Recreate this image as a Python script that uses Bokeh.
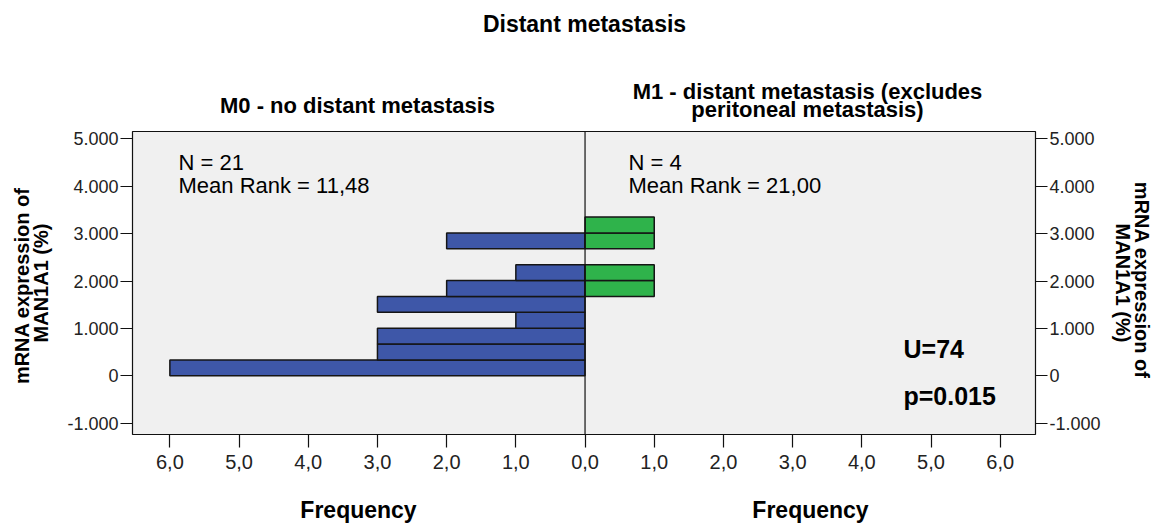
from bokeh.plotting import figure
from bokeh.models import Range1d, FixedTicker, LinearAxis, Span, Label, ColumnDataSource
from bokeh.layouts import column
from bokeh.embed import file_html
from bokeh.resources import INLINE

# ---- data ----
bin_lower = [0, 335, 670, 1005, 1340, 1675, 2010, 2345, 2680, 3015]
bin_width = 335
m0_counts = [6, 3, 3, 1, 3, 2, 1, 0, 2, 0]
m1_counts = [0, 0, 0, 0, 0, 1, 1, 0, 1, 1]
y_ticks = [-1000, 0, 1000, 2000, 3000, 4000, 5000]
y_tick_labels = ["-1.000", "0", "1.000", "2.000", "3.000", "4.000", "5.000"]
freq_ticks = [0, 1, 2, 3, 4, 5, 6]
freq_tick_labels = ["0,0", "1,0", "2,0", "3,0", "4,0", "5,0", "6,0"]
title_text = "Distant metastasis"
m0_title = "M0 - no distant metastasis"
m1_title = ["M1 - distant metastasis (excludes", "peritoneal metastasis)"]
stats_m0 = ["N = 21", "Mean Rank = 11,48"]
stats_m1 = ["N = 4", "Mean Rank = 21,00"]
test_text = ["U=74", "p=0.015"]
y_label = "mRNA  expression of\nMAN1A1 (%)"
x_label = "Frequency"

BLUE = "#3E57A8"
GREEN = "#2FB34B"
FONT = "Liberation Sans"

W, H = 1161, 524
TOP_H = 124
BOT_H = 40
MAIN_H = H - TOP_H - BOT_H
FL, FR, FT, FB = 132, 1035, 131, 434
X0, X1 = -6.54, 6.51
Y0, Y1 = -1238, 5154
BASE_FIX = 0.37  # baseline correction, in font sizes


def strip(height):
    # the column aligns this strip's frame with the main frame (FL..FR),
    # so a range of FL..FR makes data x equal to page pixels
    s = figure(width=W, height=height, output_backend="svg", toolbar_location=None,
               x_range=Range1d(FL, FR), y_range=Range1d(0, height), title=None,
               x_axis_type=None, y_axis_type=None, tools="", min_border=0)
    s.outline_line_color = None
    s.grid.visible = False
    s.background_fill_color = "white"
    s.border_fill_color = "white"
    return s


def slabel(s, text, x, y_from_bottom, size, bold=True, align="center"):
    s.add_layout(Label(x=x, y=y_from_bottom + BASE_FIX * size, text=text, text_font=FONT,
                       text_font_size=f"{size}px",
                       text_font_style="bold" if bold else "normal", text_color="#000000",
                       text_align=align, text_baseline="alphabetic"))


# ---- top strip with titles ----
top = strip(TOP_H)
slabel(top, title_text, 584, TOP_H - 32, 23)
slabel(top, m0_title, 357, TOP_H - 113, 22)
slabel(top, m1_title[0], 807, TOP_H - 99, 22)
slabel(top, m1_title[1], 807, TOP_H - 117, 22)

# ---- bottom strip with the two axis titles ----
bot = strip(BOT_H)
slabel(bot, x_label, 358, H - 518, 23)
slabel(bot, x_label, 810, H - 518, 23)

# ---- main plot ----
p = figure(width=W, height=MAIN_H, output_backend="svg", toolbar_location=None,
           x_range=Range1d(X0, X1), y_range=Range1d(Y0, Y1), title=None, tools="",
           min_border_left=FL, min_border_right=W - FR,
           min_border_top=FT - TOP_H, min_border_bottom=(H - BOT_H) - FB)
p.background_fill_color = "#F0F0F0"
p.border_fill_color = "white"
p.outline_line_color = "#111111"
p.outline_line_width = 1.2
p.grid.visible = False

centers = [b + bin_width / 2 for b in bin_lower]
src0 = ColumnDataSource(dict(
    y=[c for c, n in zip(centers, m0_counts) if n > 0],
    left=[-n for n in m0_counts if n > 0]))
src1 = ColumnDataSource(dict(
    y=[c for c, n in zip(centers, m1_counts) if n > 0],
    right=[n for n in m1_counts if n > 0]))
p.hbar(y="y", left="left", right=0, height=bin_width, source=src0,
       fill_color=BLUE, line_color="#151515", line_width=1.5)
p.hbar(y="y", left=0, right="right", height=bin_width, source=src1,
       fill_color=GREEN, line_color="#151515", line_width=1.5)
p.add_layout(Span(location=0, dimension="height", line_color="#111111", line_width=1.2))

xa = p.xaxis[0]
xa.ticker = FixedTicker(ticks=[-t for t in freq_ticks[1:]] + freq_ticks)
ov = {}
for t, l in zip(freq_ticks, freq_tick_labels):
    ov[t] = l
    ov[-t] = l
xa.major_label_overrides = ov
xa.axis_line_color = None
xa.major_tick_in = 0
xa.major_tick_out = 13
xa.major_tick_line_color = "#111111"
xa.major_tick_line_width = 1.2
xa.minor_tick_line_color = None
xa.major_label_standoff = 7
xa.major_label_text_font = FONT
xa.major_label_text_font_size = "20px"
xa.major_label_text_color = "#222222"

ya_l = p.yaxis[0]
ya_r = LinearAxis()
p.add_layout(ya_r, "right")
for ya, std in ((ya_l, 12), (ya_r, 8)):
    ya.ticker = FixedTicker(ticks=y_ticks)
    ya.major_label_overrides = {t: l for t, l in zip(y_ticks, y_tick_labels)}
    ya.axis_line_color = None
    ya.major_tick_in = 0
    ya.major_tick_out = 12
    ya.major_tick_line_color = "#111111"
    ya.major_tick_line_width = 1.2
    ya.minor_tick_line_color = None
    ya.major_label_standoff = 2
    ya.major_label_text_font = FONT
    ya.major_label_text_font_size = "18px"
    ya.major_label_text_color = "#222222"
    ya.axis_label = y_label
    ya.axis_label_text_font = FONT
    ya.axis_label_text_font_size = "20px"
    ya.axis_label_text_font_style = "bold"
    ya.axis_label_text_color = "#000000"
    ya.axis_label_text_line_height = 0.9
    ya.axis_label_standoff = std


def sx(px):
    return X0 + (px - FL) / (FR - FL) * (X1 - X0)


def sy(py):
    return Y0 + (FB - py) / (FB - FT) * (Y1 - Y0)


def lab(text, px, py, size, bold=False):
    p.add_layout(Label(x=sx(px), y=sy(py - BASE_FIX * size), text=text, text_font=FONT,
                       text_font_size=f"{size}px",
                       text_font_style="bold" if bold else "normal",
                       text_align="left", text_baseline="alphabetic",
                       text_color="#000000"))


lab(stats_m0[0], 178, 170, 22)
lab(stats_m0[1], 178, 193, 22)
lab(stats_m1[0], 628, 170, 22)
lab(stats_m1[1], 628, 193, 22)
lab(test_text[0], 903, 358, 25, bold=True)
lab(test_text[1], 903, 405, 25, bold=True)

layout = column(top, p, bot, spacing=0)
open("out.html", "w").write(file_html(layout, INLINE))
